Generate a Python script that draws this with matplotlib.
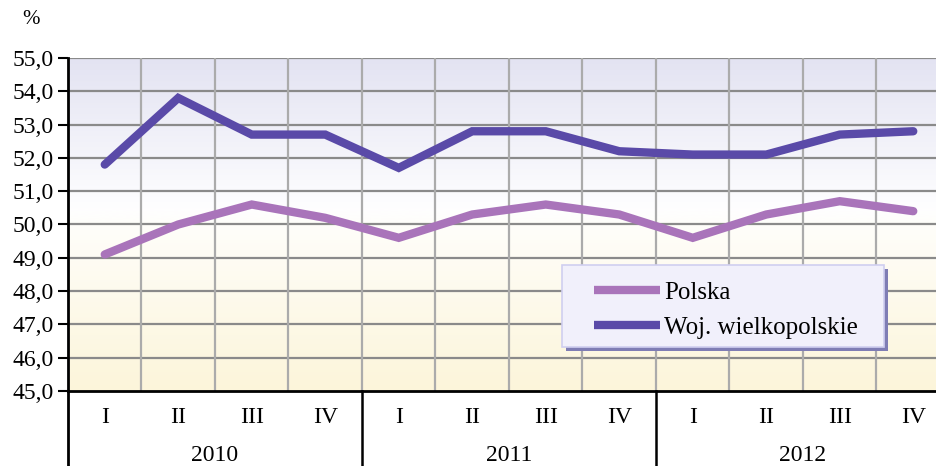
import matplotlib.pyplot as plt
import numpy as np
from matplotlib.colors import LinearSegmentedColormap
from matplotlib.patches import Rectangle

plt.rcParams["font.family"] = ["Liberation Serif", "DejaVu Serif"]

# Data
years = ["2010", "2011", "2012"]
quarters = ["I", "II", "III", "IV"]
polska = [49.1, 50.0, 50.6, 50.2, 49.6, 50.3, 50.6, 50.3, 49.6, 50.3, 50.7, 50.4]
wielkopolskie = [51.8, 53.8, 52.7, 52.7, 51.7, 52.8, 52.8, 52.2, 52.1, 52.1, 52.7, 52.8]

n = len(polska)
x = np.arange(n)

fig = plt.figure(figsize=(9.37, 4.66), dpi=100)
ax = fig.add_axes([68 / 937, 75 / 466, 882 / 937, 333 / 466])

x0, x1 = -0.5, n - 0.5
y0, y1 = 45, 55
ax.set_xlim(x0, x1)
ax.set_ylim(y0, y1)

# background gradient: lavender on top, white in the middle, pale yellow at bottom
cmap = LinearSegmentedColormap.from_list(
    "bg", [(0.0, "#fcf5da"), (0.5, "#fffefa"), (0.55, "#fefeff"), (1.0, "#e3e3f2")]
)
grad = np.linspace(0, 1, 256).reshape(-1, 1)
ax.imshow(grad, cmap=cmap, extent=(x0, x1, y0, y1), origin="lower",
          aspect="auto", zorder=0, interpolation="bicubic")

# grid
for yv in range(46, 56):
    ax.axhline(yv, color="#8a8a8a", lw=1.6, zorder=1)
for xv in np.arange(0.5, n - 0.5, 1):
    ax.axvline(xv, color="#ababab", lw=1.6, zorder=1)

ax.plot(x, polska, color="#a974ba", lw=6, solid_capstyle="round",
        solid_joinstyle="miter", zorder=3, label="Polska")
ax.plot(x, wielkopolskie, color="#5a4aa8", lw=6, solid_capstyle="round",
        solid_joinstyle="miter", zorder=3, label="Woj. wielkopolskie")

# axes
ax.spines["top"].set_visible(False)
ax.spines["right"].set_visible(False)
ax.spines["left"].set_linewidth(2)
ax.spines["bottom"].set_linewidth(2)
ax.set_yticks(range(45, 56))
ax.set_yticklabels([f"{v},0" for v in range(45, 56)], fontsize=17)
ax.tick_params(axis="y", direction="out", length=7, width=1.5, pad=3)
ax.set_xticks([])

# category labels (two levels)
for i in range(n):
    ax.text(i, -0.08, quarters[i % 4], transform=ax.get_xaxis_transform(),
            ha="center", va="center", fontsize=17)
for k, yr in enumerate(years):
    ax.text(k * 4 + 1.5, -0.195, yr, transform=ax.get_xaxis_transform(),
            ha="center", va="center", fontsize=17)

# left axis and year separators extending below the plot
for xv in [x0, 3.5, 7.5]:
    ax.plot([xv, xv], [0, -0.3], transform=ax.get_xaxis_transform(),
            color="black", lw=1.8 if xv != x0 else 2, clip_on=False, zorder=5)

fig.text(22 / 937, 1 - 20 / 466, "%", fontsize=15, ha="left", va="center")

# legend box with shadow
bx, by, bw, bh = 0.56, 0.132, 0.365, 0.246
shadow = Rectangle((bx + 4 / 882, by - 4 / 333), bw, bh, transform=ax.transAxes,
                   facecolor="#7f7db4", edgecolor="none", zorder=6)
box = Rectangle((bx, by), bw, bh, transform=ax.transAxes,
                facecolor="#f1f0fb", edgecolor="#d0cff0", lw=1.2, zorder=7)
ax.add_patch(shadow)
ax.add_patch(box)

leg = ax.legend(loc="upper left", bbox_to_anchor=(0.5964, 0.330), borderaxespad=0,
                borderpad=0, fontsize=18, handlelength=2.64, handletextpad=0.16,
                labelspacing=0.5, frameon=False)
leg.set_zorder(8)
for line in leg.get_lines():
    line.set_linewidth(6)
    line.set_solid_capstyle("butt")

fig.savefig("out.png", dpi=100)
